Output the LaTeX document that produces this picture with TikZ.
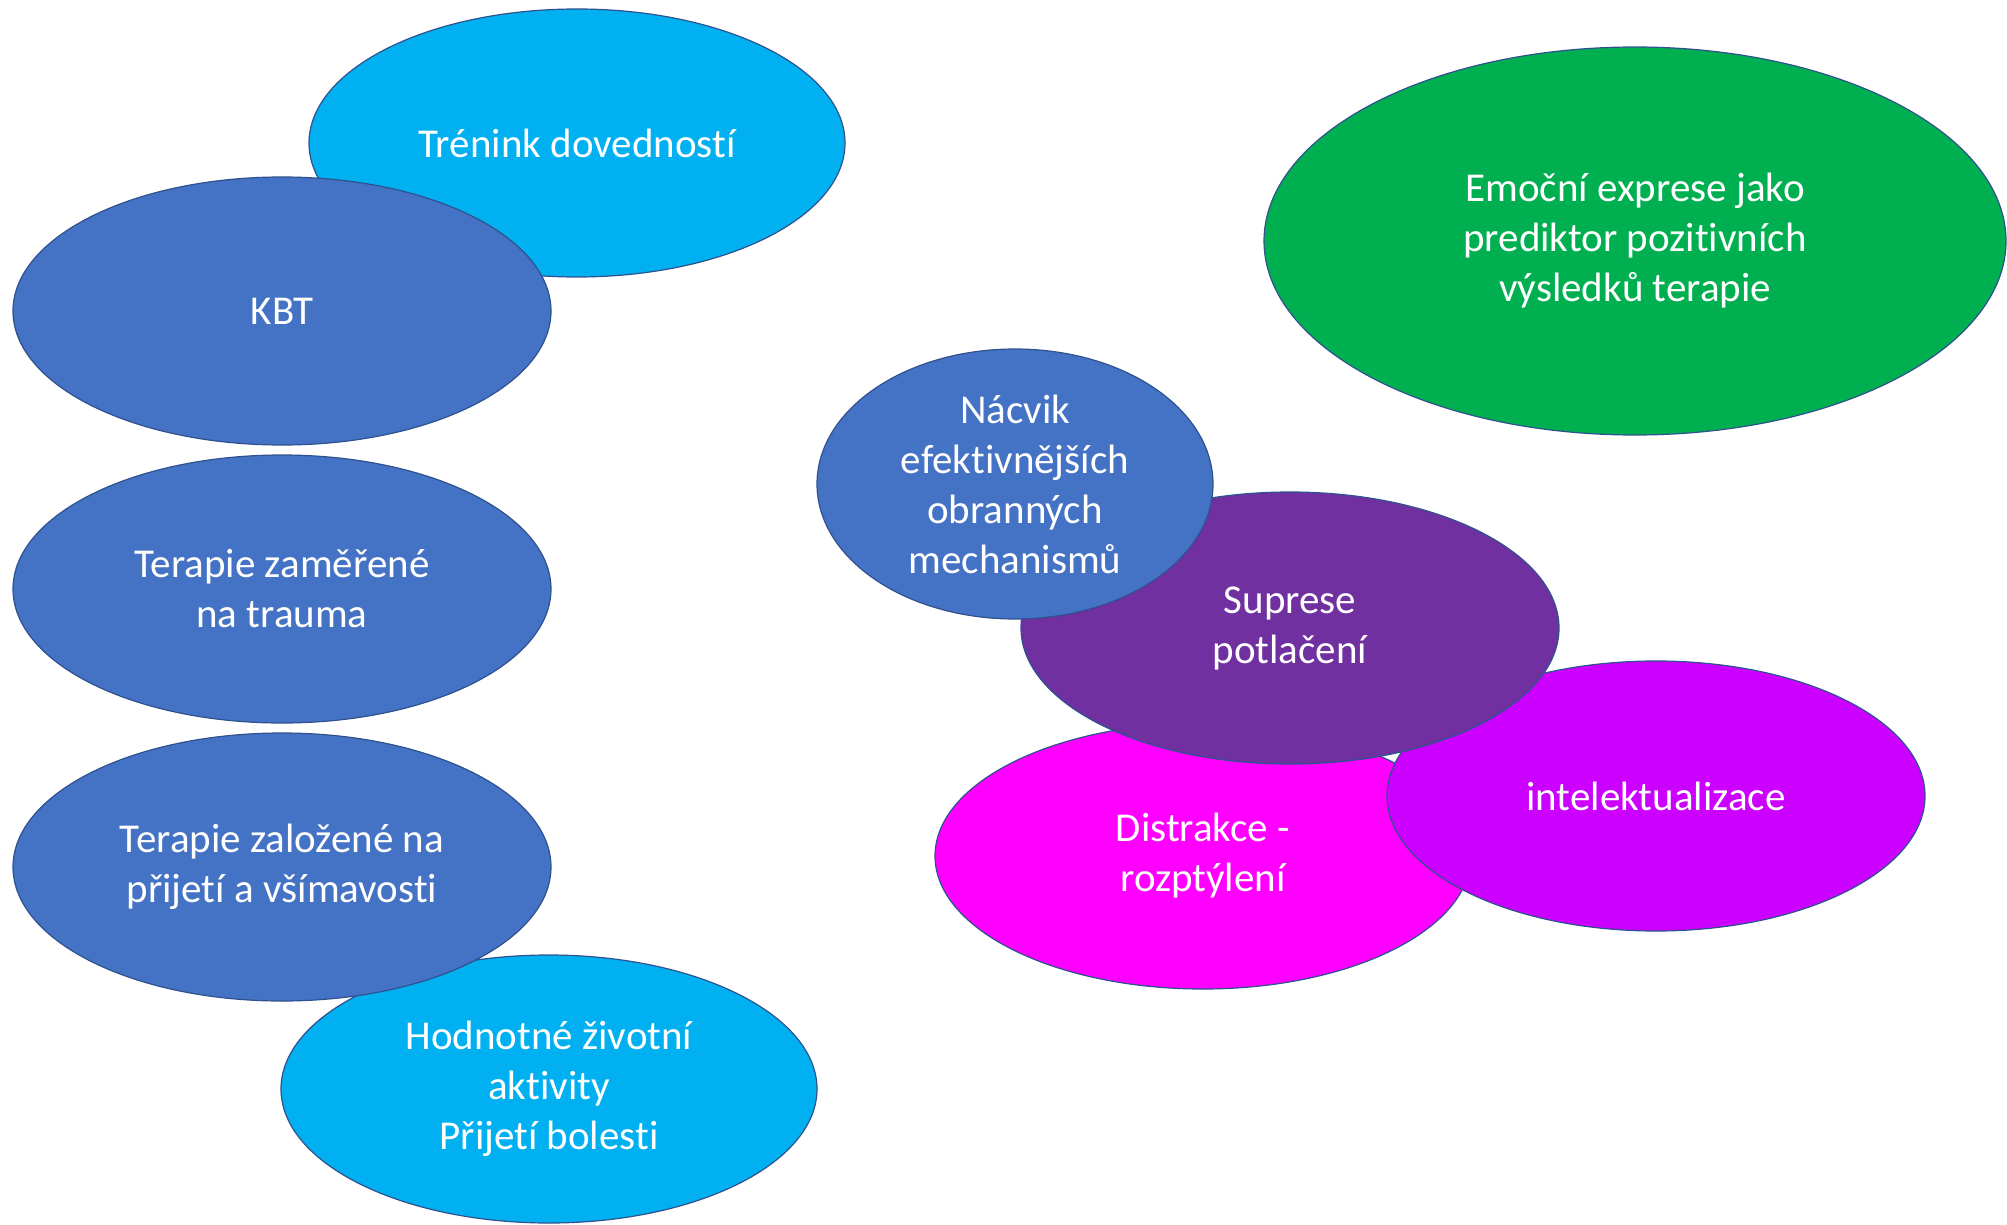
\documentclass[tikz,border=0pt]{standalone}
\usepackage{fontspec}
\setmainfont{Carlito}[Ligatures=NoCommon]
\usetikzlibrary{shapes.geometric}

\definecolor{bluebubble}{HTML}{4472C4}
\definecolor{cyanbubble}{HTML}{00B0F0}
\definecolor{greenbubble}{HTML}{00B050}
\definecolor{violetbubble}{HTML}{7030A0}
\definecolor{magentabubble}{HTML}{FF00FF}
\definecolor{purplebubble}{HTML}{CC00FF}
\definecolor{bubbleline}{HTML}{2F528F}

\tikzset{
    bubble/.style={ellipse, draw=bubbleline, line width=0.6pt, inner sep=0pt,
        text=white, align=center, font=\fontsize{20.5}{25}\selectfont},
}

\begin{document}
\begin{tikzpicture}[x=0.5pt, y=-0.5pt]

    \useasboundingbox (0,0) rectangle (2007,1225);

    %left column
    \node[bubble, fill=cyanbubble, minimum width=268pt, minimum height=134pt] (trenink) at (577,143) {Trénink dovedností};
    \node[bubble, fill=bluebubble, minimum width=269pt, minimum height=134pt] (kbt) at (282,311) {KBT};
    \node[bubble, fill=bluebubble, minimum width=269pt, minimum height=134pt] (trauma) at (282,589) {Terapie zaměřené\\na trauma};
    \node[bubble, fill=cyanbubble, minimum width=268pt, minimum height=134pt] (hodnotne) at (549,1089) {Hodnotné životní\\aktivity\\Přijetí bolesti};
    \node[bubble, fill=bluebubble, minimum width=269pt, minimum height=134pt] (prijeti) at (282,867) {Terapie založené na\\přijetí a všímavosti};

    %right group
    \node[bubble, fill=greenbubble, minimum width=371pt, minimum height=194pt] (exprese) at (1635,241) {Emoční exprese jako\\prediktor pozitivních\\výsledků terapie};
    \node[bubble, fill=magentabubble, minimum width=268pt, minimum height=133pt] (distrakce) at (1203,856) {Distrakce -\\rozptýlení};
    \node[bubble, fill=purplebubble, minimum width=269pt, minimum height=135pt] (intel) at (1656,796) {intelektualizace};
    \node[bubble, fill=violetbubble, minimum width=269pt, minimum height=136pt] (suprese) at (1290,628) {Suprese\\potlačení};
    \node[bubble, fill=bluebubble, minimum width=198pt, minimum height=135pt] (nacvik) at (1015,484) {Nácvik\\efektivnějších\\obranných\\mechanismů};

\end{tikzpicture}
\end{document}
